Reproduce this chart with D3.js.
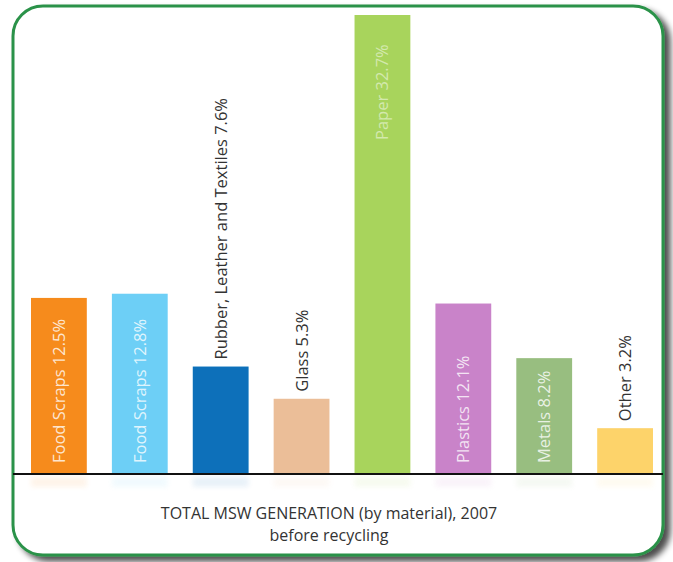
<!DOCTYPE html>
<html>
<head>
<meta charset="utf-8">
<script src="https://cdn.jsdelivr.net/npm/d3@7"></script>
<style>
  html, body { margin: 0; padding: 0; background: #fff; }
  svg { display: block; }
</style>
</head>
<body>
<script>
// Municipal solid waste generation by material, 2007 (percent of total)
const categories = ["Food Scraps", "Food Scraps", "Rubber, Leather and Textiles", "Glass", "Paper", "Plastics", "Metals", "Other"];
const values = [12.5, 12.8, 7.6, 5.3, 32.7, 12.1, 8.2, 3.2];
const barColors = ["#F68B1F", "#6DCFF6", "#0B6FBA", "#EBBE98", "#A8D45C", "#C983C9", "#98BE80", "#FDD36B"];
// where each label sits: inside the bar (white) or above it (dark)
const labelInside = [true, true, false, false, true, true, true, false];
const titleLines = ["TOTAL MSW GENERATION (by material), 2007", "before recycling"];

const W = 673, H = 562;
const svg = d3.select("body").append("svg").attr("width", W).attr("height", H);

// rounded frame with soft drop shadow
const defs = svg.append("defs");
const shadow = defs.append("filter").attr("id", "frameShadow")
  .attr("x", "-5%").attr("y", "-5%").attr("width", "115%").attr("height", "115%");
shadow.append("feGaussianBlur").attr("in", "SourceAlpha").attr("stdDeviation", 3).attr("result", "b");
shadow.append("feOffset").attr("in", "b").attr("dx", 6).attr("dy", 5).attr("result", "o");
shadow.append("feComponentTransfer").attr("in", "o").attr("result", "s")
  .append("feFuncA").attr("type", "linear").attr("slope", 0.7);
const merge = shadow.append("feMerge");
merge.append("feMergeNode").attr("in", "s");
merge.append("feMergeNode").attr("in", "SourceGraphic");

const frame = { x: 13, y: 6, w: 650, h: 549, r: 30 };
svg.append("rect")
  .attr("x", frame.x).attr("y", frame.y)
  .attr("width", frame.w).attr("height", frame.h)
  .attr("rx", frame.r).attr("ry", frame.r)
  .attr("fill", "#fff")
  .attr("stroke", "#2B9248").attr("stroke-width", 3)
  .attr("filter", "url(#frameShadow)");

// scales
const baseline = 473;
const x = d3.scaleBand().domain(d3.range(values.length)).range([31, 653])
  .paddingInner(0.31).paddingOuter(0);
const y = d3.scaleLinear().domain([0, 32.7]).range([baseline, 15]);

const blur = defs.append("filter").attr("id", "soft");
blur.append("feGaussianBlur").attr("stdDeviation", 0.5);
const haze = defs.append("filter").attr("id", "haze")
  .attr("x", "-20%").attr("y", "-50%").attr("width", "140%").attr("height", "200%");
haze.append("feGaussianBlur").attr("stdDeviation", 2.5);

// faint reflections below the axis
svg.append("g").attr("opacity", 0.09)
  .selectAll("rect").data(values).join("rect")
  .attr("x", (d, i) => x(i)).attr("y", baseline + 4)
  .attr("width", x.bandwidth()).attr("height", 10)
  .attr("fill", (d, i) => barColors[i])
  .attr("filter", "url(#haze)");

// bars
svg.append("g").selectAll("rect").data(values).join("rect")
  .attr("x", (d, i) => x(i)).attr("y", d => y(d))
  .attr("width", x.bandwidth()).attr("height", d => baseline - y(d))
  .attr("fill", (d, i) => barColors[i])
  .attr("filter", "url(#soft)");

// baseline axis
svg.append("line")
  .attr("x1", frame.x).attr("x2", frame.x + frame.w)
  .attr("y1", baseline + 1).attr("y2", baseline + 1)
  .attr("stroke", "#111").attr("stroke-width", 2);

// rotated bar labels
const font = "'Open Sans', sans-serif";
svg.append("g").selectAll("text").data(values).join("text")
  .attr("transform", (d, i) => {
    const cx = x(i) + x.bandwidth() / 2 + 6;
    let yy;
    if (categories[i] === "Paper") yy = 140;
    else yy = labelInside[i] ? baseline - 10 : y(d) - 7;
    return `translate(${cx},${yy}) rotate(-90)`;
  })
  .attr("text-anchor", "start")
  .attr("font-family", font)
  .attr("font-size", 16.5)
  .attr("fill", (d, i) => labelInside[i] ? "#fff" : "#333")
  .attr("fill-opacity", (d, i) => categories[i] === "Paper" ? 0.5 : (labelInside[i] ? 0.8 : 1))
  .text((d, i) => `${categories[i]} ${d}%`);

// caption
svg.append("g").selectAll("text").data(titleLines).join("text")
  .attr("x", 329).attr("y", (d, i) => 519 + i * 22)
  .attr("text-anchor", "middle")
  .attr("font-family", font)
  .attr("font-size", 16)
  .attr("fill", "#333")
  .text(d => d);
</script>
</body>
</html>
